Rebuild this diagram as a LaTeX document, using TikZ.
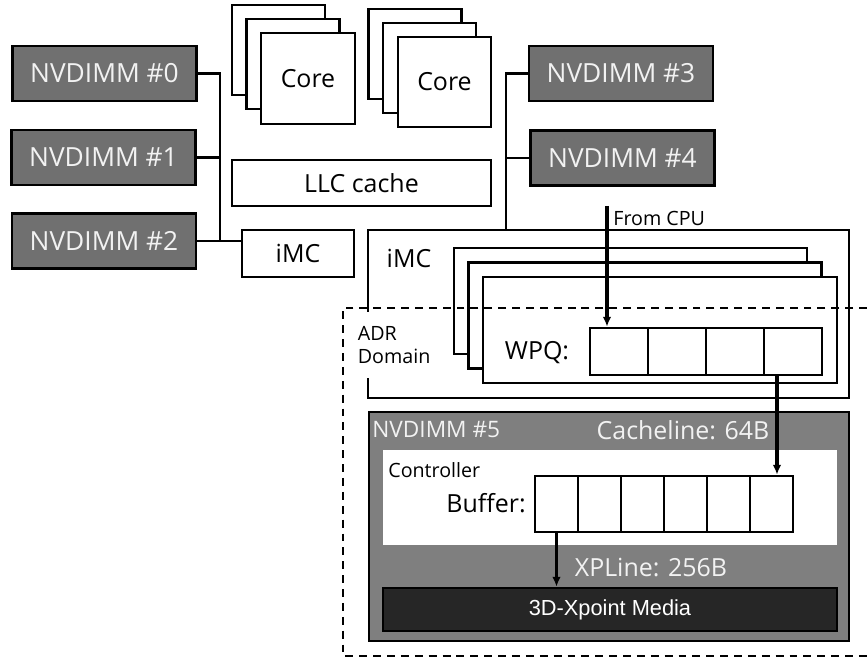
\documentclass[tikz,border=0pt]{standalone}
\usepackage{fontspec}
\setmainfont{Open Sans}
\newfontfamily\arialfont{Liberation Sans}
\usepackage{tikz}
\usetikzlibrary{arrows.meta, calc, positioning}

\definecolor{dimmgray}{RGB}{112,112,112}
\definecolor{dimmlight}{RGB}{127,127,127}
\definecolor{dimmtext}{RGB}{242,242,242}
\definecolor{mediafill}{RGB}{38,38,38}

\newcommand{\px}{0.02cm}
\newcommand{\bigtxt}{\fontsize{14.2}{16}\selectfont}
\newcommand{\dimmtxt}{\fontsize{15}{17}\selectfont}
\newcommand{\midtxt}{\fontsize{14.2}{16}\selectfont}
\newcommand{\smalltxt}{\fontsize{11.2}{13.5}\selectfont}

\tikzset{
    box/.style={draw, fill=white, line width=1.4pt, inner sep=0pt, font=\bigtxt},
    nvd/.style={box, fill=dimmgray, text=dimmtext, font=\dimmtxt, minimum width=184*\px, minimum height=55*\px},
    cell/.style={box, minimum height=47*\px, minimum width=58*\px},
    bufcell/.style={box, minimum height=56*\px, minimum width=43*\px},
    wire/.style={line width=1.4pt},
    arr/.style={line width=2pt, -{Latex[length=2mm,width=1.7mm]}},
    adr/.style={line width=1.3pt, dash pattern=on 4.5pt off 3.4pt}
}

\begin{document}
\begin{tikzpicture}[x=0.02cm, y=-0.02cm]
        \useasboundingbox (0,0) rectangle (867,658);

            % cores and LLC
            \foreach \k in {0,1}
                \node (ca\k) at (278.5+14.5*\k,50+14*\k) [box, minimum width=93*\px, minimum height=90*\px] {};
            \node (corea) at (308,78.5) [box, minimum width=94*\px, minimum height=91*\px] {Core};
            \foreach \k in {0,1}
                \node (cb\k) at (415+14.5*\k,54+14*\k) [box, minimum width=93*\px, minimum height=90*\px] {};
            \node (coreb) at (444.5,82) [box, minimum width=93*\px, minimum height=90*\px] {Core};
            \node (llc) at (361.5,183) [box, minimum width=259*\px, minimum height=46*\px] {LLC cache};

            \node (imca) at (298,253.5) [box, minimum width=112*\px, minimum height=47*\px] {iMC};
            \node (imcb) at (608.5,314) [box, minimum width=481*\px, minimum height=168*\px] {};
            \node (imclabel) at (409,258) [font=\bigtxt] {iMC};

            % write pending queues
            \foreach \k in {0,1}
                \node (wq\k) at (630.5+14.5*\k,301+14.5*\k) [box, minimum width=353*\px, minimum height=106*\px] {};
            \node (wpqbox) at (660,330) [box, minimum width=354*\px, minimum height=106*\px] {};
            \node (wpqlabel) at (537,353) [font=\bigtxt] {WPQ:};
            \foreach \i in {1,...,4}
                \node (w\i) at (561+58*\i,351.5) [cell] {};

            % ADR domain
            \node (adrlabel) at (354,345) [anchor=west, fill=white, inner sep=2pt, minimum height=66*\px,
                align=left, font=\smalltxt] {ADR\\Domain};
            \draw[adr] (867,308) -- (343,308) -- (343,656) -- (867,656);

            % NVDIMM #5
            \node (nv5) at (609,526.5) [box, fill=dimmlight, minimum width=480*\px, minimum height=229*\px] {};
            \node (nv5label) at (372,430) [anchor=west, text=dimmtext, font=\fontsize{12.9}{15}\selectfont, inner sep=0pt] {NVDIMM \#5};
            \node (cacheline) at (683,430) [text=dimmtext, font=\midtxt, inner sep=0pt] {Cacheline: 64B};
            \node (ctrl) at (610,497.5) [fill=white, inner sep=0pt, minimum width=454*\px, minimum height=95*\px] {};
            \node (ctrllabel) at (388,470) [anchor=west, font=\smalltxt, inner sep=0pt] {Controller};
            \node (buflabel) at (526,503) [anchor=east, font=\bigtxt, inner sep=0pt] {Buffer:};
            \foreach \i in {1,...,6}
                \node (b\i) at (513.5+43*\i,504) [bufcell] {};
            \node (xpline) at (651,568) [text=dimmtext, font=\midtxt, inner sep=0pt] {XPLine: 256B};
            \node (media) at (610,609.5) [box, fill=mediafill, text=white, minimum width=454*\px,
                minimum height=43*\px, font=\arialfont\fontsize{12.4}{14}\selectfont] {3D-Xpoint Media};

            % data path
            \coordinate (cpu) at (607,206);
            \node (cpulabel) at (613,218) [anchor=west, font=\smalltxt, inner sep=0pt] {From CPU};
            \draw[arr] (cpu) -- (cpu |- w1.north);
            \coordinate (wout) at ([xshift=-16*\px]w4.south);
            \draw[arr] (wout) -- (wout |- b6.north);
            \draw[arr] (b1.south) -- (b1.south |- media.north);

            % NVDIMMs and channels
            \node (n0) at (104.5,73.5) [nvd] {NVDIMM \#0};
            \node (n1) at (103.5,157.5) [nvd] {NVDIMM \#1};
            \node (n2) at (104,241) [nvd] {NVDIMM \#2};
            \node (n3) at (621,73.5) [nvd] {NVDIMM \#3};
            \node (n4) at (622.5,158) [nvd] {NVDIMM \#4};

            \coordinate (busl) at (220,73);
            \coordinate (busr) at (506,73);
            \draw[wire] (n0.east) -- (n0.east -| busl) -- (n2.east -| busl);
            \draw[wire] (n1.east) -- (n1.east -| busl);
            \draw[wire] (n2.east) -- (n2.east -| imca.west);
            \draw[wire] (n3.west) -- (n3.west -| busr) -- (busr |- imcb.north);
            \draw[wire] (n4.west) -- (n4.west -| busr);
        \end{tikzpicture}
\end{document}
